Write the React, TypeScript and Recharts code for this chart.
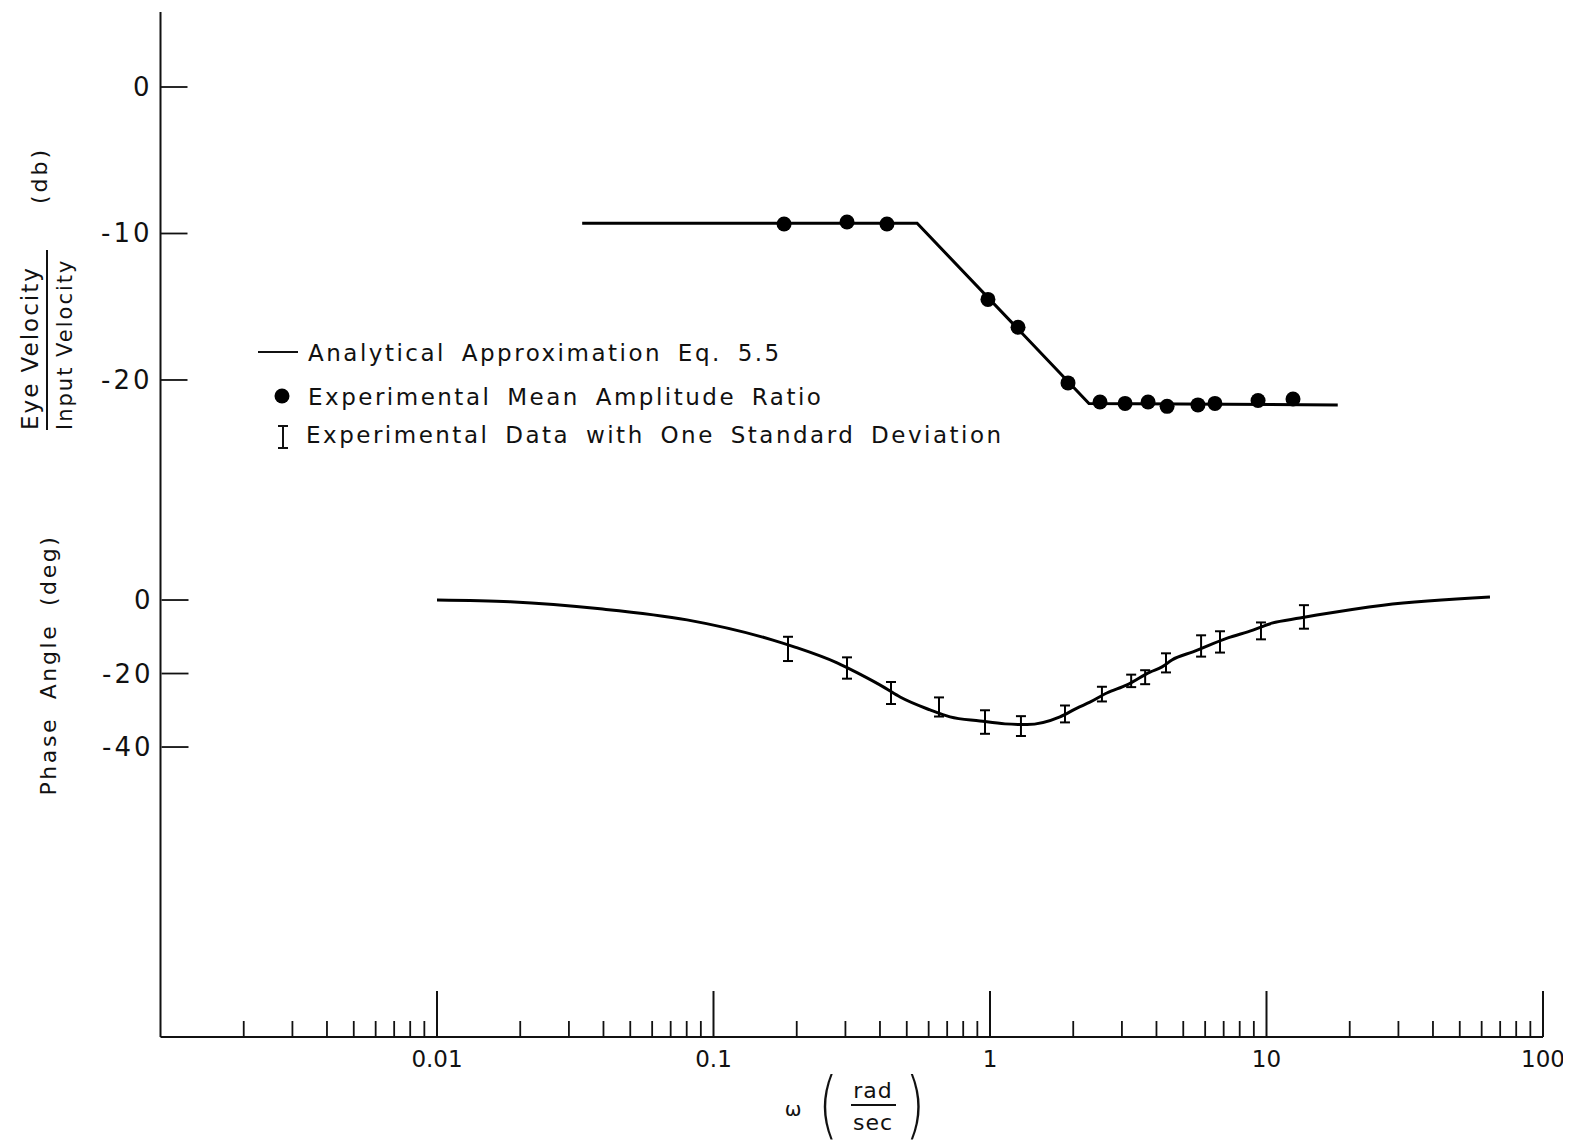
import React from 'react';
import { ComposedChart, Line, Scatter, XAxis, YAxis, ErrorBar } from 'recharts';

const W = 1563;
const H = 1139;
const FONT = '"DejaVu Sans", "Liberation Sans", sans-serif';

// analytical approximation, Eq. 5.5 (amplitude, db)
const ampOmega = [0.0335, 0.545, 2.28, 18.1];
const ampDb = [-9.3, -9.3, -21.6, -21.7];

// experimental mean amplitude ratio (db)
const ampExpOmega = [0.18, 0.304, 0.424, 0.983, 1.263, 1.915, 2.5, 3.08, 3.73, 4.37, 5.65, 6.51, 9.32, 12.47];
const ampExpDb = [-9.35, -9.22, -9.35, -14.5, -16.4, -20.2, -21.5, -21.6, -21.5, -21.8, -21.7, -21.6, -21.4, -21.3];

// analytical phase curve (deg)
const phaseOmega = [
  0.01, 0.0184, 0.0389, 0.0802, 0.164, 0.197, 0.28, 0.333, 0.417, 0.473, 0.607, 0.717, 0.92, 1.133,
  1.361, 1.791, 2.064, 2.298, 2.646, 3.13, 3.79, 4.19, 4.55, 5.42, 7.25, 8.93, 10.45, 13.2, 15.2, 26.4, 64.3,
];
const phaseDeg = [
  0, -0.5, -2.4, -5.4, -10.9, -12.8, -17.1, -19.9, -23.9, -26.4, -29.9, -31.8, -32.9, -33.7,
  -33.9, -31.8, -29.4, -27.8, -25.3, -23.1, -19.6, -18.2, -16.3, -14.1, -10.3, -8.2, -6.3, -4.9, -4.1, -1.4, 0.8,
];

// experimental phase with one standard deviation
const phaseExpOmega = [0.186, 0.304, 0.4385, 0.654, 0.959, 1.294, 1.867, 2.54, 3.24, 3.64, 4.33, 5.8, 6.79, 9.55, 13.66];
const phaseExpDeg = [-13.3, -18.5, -25.3, -29.1, -33.2, -34.3, -31.0, -25.6, -22.0, -21.0, -17.1, -12.5, -11.4, -8.4, -4.6];
const phaseExpSd = [3.3, 2.9, 3.0, 2.6, 3.2, 2.7, 2.3, 2.0, 1.7, 1.9, 2.6, 2.9, 2.9, 2.3, 3.2];

const majorTicks = [0.01, 0.1, 1, 10, 100];
const majorLabels = ['0.01', '0.1', '1', '10', '100'];
const minorSteps = [2, 3, 4, 5, 6, 7, 8, 9];
const minorDecades = [0.001, 0.01, 0.1, 1, 10];
const dbTicks = [0, -10, -20];
const degTicks = [0, -20, -40];

const xTicks = [
  ...minorDecades.flatMap((d) => minorSteps.map((m) => m * d)),
  ...majorTicks,
].sort((a, b) => a - b);

const ampLine = ampOmega.map((w, i) => ({ w, db: ampDb[i] }));
const ampExp = ampExpOmega.map((w, i) => ({ w, db: ampExpDb[i] }));
const phaseLine = phaseOmega.map((w, i) => ({ w, deg: phaseDeg[i] }));
const phaseExp = phaseExpOmega.map((w, i) => ({ w, deg: phaseExpDeg[i], sd: phaseExpSd[i] }));

const XTick = ({ x, y, payload }: any) => {
  const idx = majorTicks.indexOf(payload.value);
  const major = idx >= 0;
  return (
    <g>
      <line x1={x} x2={x} y1={y} y2={y - (major ? 46 : 16)} stroke="#111" strokeWidth={major ? 2 : 1.8} />
      {major && (
        <text x={x} y={y + 30} textAnchor="middle" fontSize={23} fontFamily={FONT} fill="#111">
          {majorLabels[idx]}
        </text>
      )}
    </g>
  );
};

const YTick = ({ x, y, payload }: any) => (
  <g>
    <line x1={x} x2={x + 27} y1={y} y2={y} stroke="#111" strokeWidth={1.8} />
    <text x={x - 8} y={y + 9} textAnchor="end" fontSize={26} fontFamily={FONT} fill="#111" letterSpacing={3}>
      {payload.value}
    </text>
  </g>
);

const Dot = ({ cx, cy }: any) => <circle cx={cx} cy={cy} r={7.5} fill="#000" />;
const NoShape = () => <g />;

export default function App() {
  return (
    <div style={{ position: 'relative', width: W, height: H }}>
      <ComposedChart width={W} height={H} margin={{ top: 4, right: 28, bottom: 80, left: 152.5 }}>
        <XAxis
          xAxisId="w"
          dataKey="w"
          type="number"
          scale="log"
          domain={[0.001, 100]}
          allowDataOverflow
          ticks={xTicks}
          interval={0}
          tick={<XTick />}
          tickLine={false}
          tickSize={0}
          tickMargin={0}
          height={30}
          axisLine={{ stroke: '#111', strokeWidth: 2 }}
        />
        <YAxis
          yAxisId="db"
          dataKey="db"
          type="number"
          domain={[-64.85, 5.12]}
          allowDataOverflow
          ticks={dbTicks}
          interval={0}
          mirror
          width={1}
          tick={<YTick />}
          tickLine={false}
          tickSize={0}
          tickMargin={0}
          axisLine={{ stroke: '#111', strokeWidth: 2 }}
        />
        <YAxis
          yAxisId="deg"
          dataKey="deg"
          type="number"
          domain={[-118.9, 160]}
          allowDataOverflow
          ticks={degTicks}
          interval={0}
          mirror
          width={1}
          tick={<YTick />}
          tickLine={false}
          tickSize={0}
          tickMargin={0}
          axisLine={false}
        />
        <Line
          xAxisId="w"
          yAxisId="db"
          data={ampLine}
          dataKey="db"
          type="linear"
          stroke="#000"
          strokeWidth={3}
          dot={false}
          isAnimationActive={false}
        />
        <Scatter xAxisId="w" yAxisId="db" data={ampExp} dataKey="db" shape={<Dot />} isAnimationActive={false} />
        <Line
          xAxisId="w"
          yAxisId="deg"
          data={phaseLine}
          dataKey="deg"
          type="monotone"
          stroke="#000"
          strokeWidth={3}
          dot={false}
          isAnimationActive={false}
        />
        <Scatter xAxisId="w" yAxisId="deg" data={phaseExp} dataKey="deg" shape={<NoShape />} isAnimationActive={false}>
          <ErrorBar dataKey="sd" direction="y" width={5} stroke="#000" strokeWidth={2} isAnimationActive={false} />
        </Scatter>
      </ComposedChart>

      <svg
        width={W}
        height={H}
        style={{ position: 'absolute', left: 0, top: 0, pointerEvents: 'none' }}
        fontFamily={FONT}
        fill="#111"
      >
        {/* legend */}
        <line x1={250} x2={290} y1={344} y2={344} stroke="#111" strokeWidth={2} />
        <text x={300} y={353} fontSize={23} letterSpacing={2.5} wordSpacing={6}>
          Analytical Approximation Eq. 5.5
        </text>
        <circle cx={274} cy={388} r={7.5} fill="#000" />
        <text x={300} y={397} fontSize={23} letterSpacing={2.5} wordSpacing={6}>
          Experimental Mean Amplitude Ratio
        </text>
        <g stroke="#111" strokeWidth={2}>
          <line x1={275} x2={275} y1={418} y2={440} />
          <line x1={270} x2={280} y1={418} y2={418} />
          <line x1={270} x2={280} y1={440} y2={440} />
        </g>
        <text x={298} y={435} fontSize={23} letterSpacing={2.5} wordSpacing={6}>
          Experimental Data with One Standard Deviation
        </text>

        {/* amplitude axis title */}
        <text transform="translate(30 422) rotate(-90)" fontSize={23} letterSpacing={2}>
          Eye Velocity
        </text>
        <line x1={39} x2={39} y1={242} y2={422} stroke="#111" strokeWidth={2} />
        <text transform="translate(64 422) rotate(-90)" fontSize={21} letterSpacing={2}>
          Input Velocity
        </text>
        <text transform="translate(39 196) rotate(-90)" fontSize={22} letterSpacing={3}>
          (db)
        </text>

        {/* phase axis title */}
        <text transform="translate(48 657) rotate(-90)" textAnchor="middle" fontSize={22} letterSpacing={2.6} wordSpacing={8}>
          Phase Angle (deg)
        </text>

        {/* x axis title */}
        <text x={785} y={1108} textAnchor="middle" fontSize={20}>
          ω
        </text>
        <text transform="translate(820 1122) scale(0.9 1.3)" textAnchor="middle" fontSize={56} fontWeight={300}>
          (
        </text>
        <text x={865} y={1090} textAnchor="middle" fontSize={22} letterSpacing={1}>
          rad
        </text>
        <line x1={843} x2={888} y1={1097} y2={1097} stroke="#111" strokeWidth={2} />
        <text x={865} y={1122} textAnchor="middle" fontSize={22} letterSpacing={1}>
          sec
        </text>
        <text transform="translate(907 1122) scale(0.9 1.3)" textAnchor="middle" fontSize={56} fontWeight={300}>
          )
        </text>
      </svg>
    </div>
  );
}
